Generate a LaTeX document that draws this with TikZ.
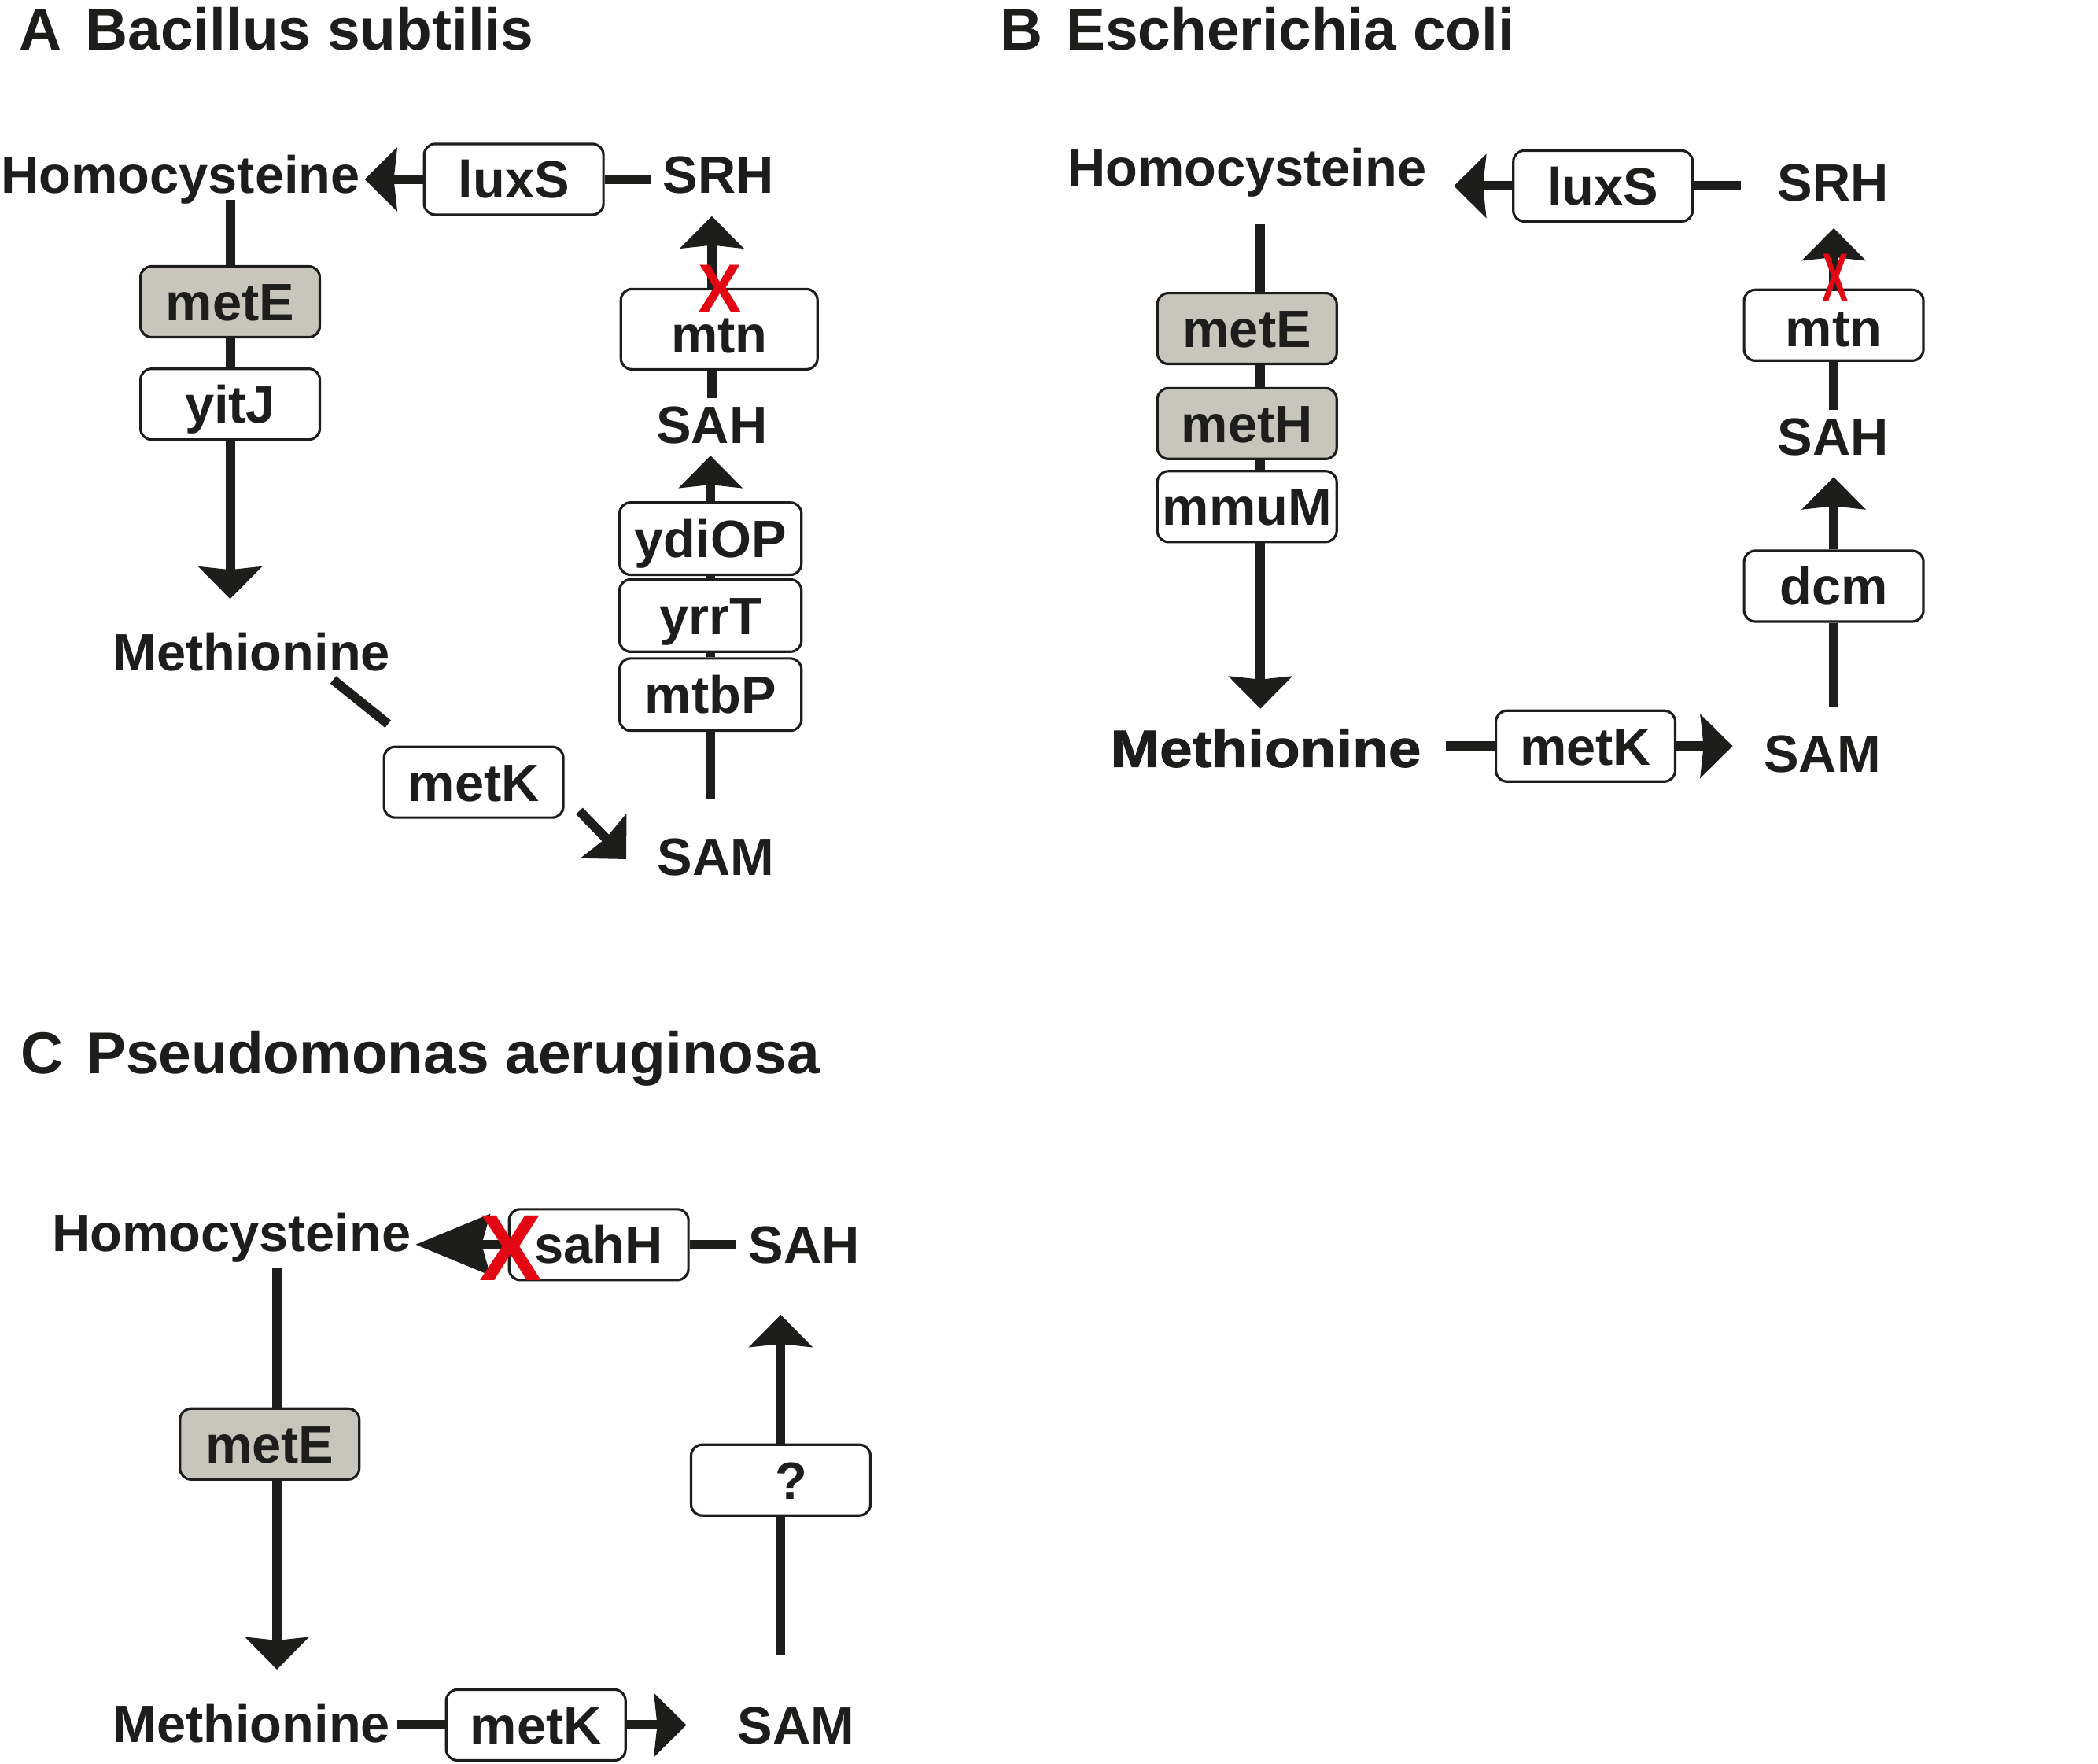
\documentclass[tikz,border=0pt]{standalone}
\usepackage{fontspec}
\setmainfont{Liberation Sans}
\newfontfamily\heavyfont{Liberation Sans Bold}[FakeBold=1.5,FakeStretch=1.12]
\usetikzlibrary{arrows.meta,calc}
\definecolor{ink}{HTML}{1D1D1B}
\definecolor{gbox}{HTML}{C8C6BA}
\definecolor{xred}{HTML}{E30613}
\tikzset{
 lbl/.style={inner sep=0pt, font=\fontsize{19}{19}\selectfont\bfseries, text=ink, text height=13.6pt, text depth=0pt},
 gene/.style={lbl, draw=ink, line width=0.9pt, rounded corners=0.14cm, fill=white, minimum width=2.28cm, minimum height=0.9cm},
 geneg/.style={gene, fill=gbox},
 tallgene/.style={gene, minimum width=2.313cm, minimum height=0.918cm},
 conn/.style={draw=ink, line width=0.12cm},
 arr/.style={conn, -{Stealth[length=0.41cm, width=0.8cm, inset=0.04cm]}},
 bigarr/.style={conn, -{Stealth[length=0.94cm, width=0.76cm, inset=0.1cm]}},
 ttl/.style={anchor=west, inner sep=0pt, font=\fontsize{21.3}{21.3}\selectfont\bfseries, text=ink, text height=15pt, text depth=0pt},
 redx/.style={inner sep=0pt, text=xred, font=\fontsize{25}{25}\selectfont\bfseries, text height=17.9pt, text depth=0pt}
}
\begin{document}
\begin{tikzpicture}[x=0.017009cm, y=-0.017009cm]
\useasboundingbox (0,0) rectangle (1568,1318);

% ---------------- Panel A ----------------
\node[ttl] (tA) at (14,22) {A\hspace{0.3cm}Bacillus subtilis};
\node[lbl] (homA) at (135,130) {Homocysteine};
\node[gene] (luxA) at (384,134) {luxS};
\node[lbl] (srhA) at (537,130) {SRH};
\node[geneg] (meteA) at (172,225.5) {metE};
\node[gene] (yitjA) at (172,302) {yitJ};
\node[lbl] (methA) at (188,487) {Methionine};
\node[gene] (metkA) at (354,584.5) {metK};
\node[lbl] (samA) at (535,640) {SAM};
\node[tallgene] (mtbpA) at (531,519) {mtbP};
\node[tallgene] (yrrtA) at (531,460) {yrrT};
\node[tallgene] (ydiopA) at (531,402.5) {ydiOP};
\node[lbl] (sahA) at (532,317) {SAH};
\node[gene, minimum width=2.5cm, minimum height=1.02cm] (mtnA) at (537.5,246) {\raisebox{-0.06cm}{mtn}};
\coordinate (cA) at (532,0);

\draw[arr] (luxA.west) -- ($(homA.east |- luxA.west)+(3,0)$);
\draw[conn] (luxA.east) -- ($(srhA.west |- luxA.east)+(-9,0)$);
\draw[conn] ($(homA.south -| meteA.north)+(0,5)$) -- (meteA.north);
\draw[conn] (meteA.south) -- (yitjA.north);
\draw[arr] (yitjA.south) -- ($(methA.north -| yitjA.south)+(0,-25)$);
\coordinate (dA1) at (249,508);
\coordinate (dA2) at (290,541);
\coordinate (dA3) at (433,606);
\coordinate (dA4) at (468,642);
\draw[conn] (dA1) -- (dA2);
\draw[arr] (dA3) -- (dA4);
\draw[conn] ($(samA.north -| mtbpA.south)+(0,-29)$) -- (mtbpA.south);
\draw[conn] (mtbpA.north) -- (yrrtA.south);
\draw[conn] (yrrtA.north) -- (ydiopA.south);
\draw[arr] (ydiopA.north) -- ($(sahA.south -| ydiopA.north)+(0,9)$);
\draw[conn] ($(sahA.north -| cA)+(0,-5)$) -- (mtnA.south -| cA);
\draw[arr] (mtnA.north -| cA) -- ($(srhA.south -| cA)+(0,17)$);
\node[redx, xscale=0.95] (xA) at (538,215) {X};

% ---------------- Panel B ----------------
\node[ttl] (tB) at (747,22) {B\hspace{0.3cm}Escherichia coli};
\node[lbl] (homB) at (932,125) {Homocysteine};
\node[gene] (luxB) at (1198,139) {luxS};
\node[lbl] (srhB) at (1370,136) {SRH};
\node[geneg] (meteB) at (932,245.5) {metE};
\node[geneg] (methB) at (932,316.5) {metH};
\node[gene] (mmumB) at (932,378.5) {mmuM};
\node[lbl, font=\fontsize{19}{19}\selectfont\heavyfont] (metnB) at (946,559) {Methionine};
\node[gene] (metkB) at (1185,557.5) {metK};
\node[lbl] (samB) at (1362,563) {SAM};
\node[gene] (dcmB) at (1370.5,438) {dcm};
\node[lbl] (sahB) at (1370,326) {SAH};
\node[gene] (mtnB) at (1370.5,243) {\raisebox{-0.03cm}{mtn}};
\coordinate (cB) at (942,0);

\draw[arr] (luxB.west) -- ($(homB.east |- luxB.west)+(20,0)$);
\draw[conn] (luxB.east) -- ($(srhB.west |- luxB.east)+(-27,0)$);
\draw[conn] ($(homB.south -| cB)+(0,28)$) -- (meteB.north -| cB);
\draw[conn] (meteB.south -| cB) -- (methB.north -| cB);
\draw[conn] (methB.south -| cB) -- (mmumB.north -| cB);
\draw[arr] (mmumB.south -| cB) -- ($(metnB.north -| cB)+(0,-15)$);
\draw[conn] ($(metnB.east |- metkB.west)+(18,0)$) -- (metkB.west);
\draw[arr] (metkB.east) -- ($(samB.west |- metkB.east)+(-23,0)$);
\draw[conn] ($(samB.north -| dcmB)+(0,-20)$) -- (dcmB.south);
\draw[arr] (dcmB.north) -- ($(sahB.south -| dcmB)+(0,16)$);
\draw[conn] ($(sahB.north -| dcmB)+(0,-5)$) -- (mtnB.south);
\draw[arr] (mtnB.north) -- ($(srhB.south -| mtnB)+(0,20)$);
\node[redx, xscale=0.57] (xB) at (1372,207) {X};

% ---------------- Panel C ----------------
\node[ttl] (tC) at (15,787) {C\hspace{0.3cm}Pseudomonas aeruginosa};
\node[lbl] (homC) at (173,921) {Homocysteine};
\node[gene] (sahhC) at (447.5,930) {sahH};
\node[lbl] (sahC) at (601,930) {SAH};
\node[geneg] (meteC) at (201.5,1079) {metE};
\node[lbl] (metnC) at (188,1288) {Methionine};
\node[gene] (metkC) at (400.5,1289) {metK};
\node[lbl] (samC) at (595,1289) {SAM};
\node[gene] (qC) at (583.5,1106) {\hspace{0.26cm}?};
\coordinate (cC) at (207,0);

\draw[bigarr] (sahhC.west) -- ($(homC.east |- sahhC.west)+(3,0)$);
\draw[conn] (sahhC.east) -- ($(sahC.west |- sahhC.east)+(-9,0)$);
\draw[conn] ($(homC.south -| cC)+(0,12)$) -- (meteC.north -| cC);
\draw[arr] (meteC.south -| cC) -- ($(metnC.north -| cC)+(0,-26)$);
\draw[conn] ($(metnC.east |- metkC.west)+(5,0)$) -- (metkC.west);
\draw[arr] (metkC.east) -- ($(samC.west |- metkC.east)+(-38,0)$);
\draw[conn] ($(samC.north -| qC)+(0,-38)$) -- (qC.south);
\draw[arr] (qC.north) -- ($(sahC.south -| qC)+(0,38)$);
\node[redx, font=\fontsize{34}{34}\selectfont\bfseries, text height=24.3pt] (xC) at (381.6,932) {X};
\end{tikzpicture}
\end{document}
